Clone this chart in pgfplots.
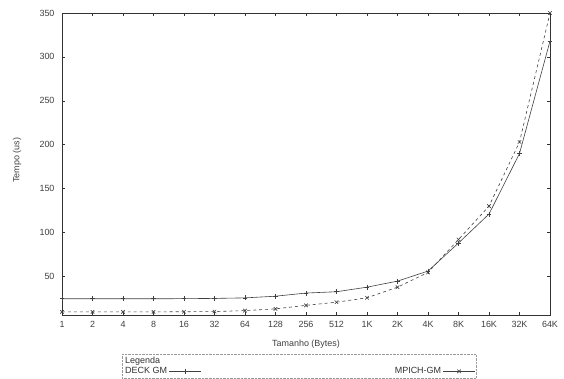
\documentclass[border=0pt]{standalone}
\usepackage{pgfplots}
\pgfplotsset{compat=1.18}
\usepackage{pgfplotstable}
\usepackage{fontspec}
\setmainfont{Liberation Sans}
\pgfplotstableread{
x lab DECK MPICH
0 1 24.5 9.6
1 2 24.5 9.6
2 4 24.5 9.6
3 8 24.5 9.6
4 16 24.6 9.7
5 32 24.9 9.9
6 64 25.5 11
7 128 27.4 13
8 256 31 17
9 512 32.5 20.6
10 1K 37.7 25.6
11 2K 44.6 37.7
12 4K 56 54.5
13 8K 88 92
14 16K 121 130
15 32K 190 203
16 64K 318 350
}\datatab
\begin{document}
\begin{tikzpicture}
\begin{axis}[
  name=ax,
  scale only axis,
  width=488bp, height=302bp,
  xmin=0, xmax=16, ymin=6, ymax=350,
  xtick={0,...,16},
  xticklabels={1,2,4,8,16,32,64,128,256,512,1K,2K,4K,8K,16K,32K,64K},
  ytick={50,100,150,200,250,300,350},
  tick align=inside,
  major tick length=3bp,
  axis line style={black!80, line width=0.6pt},
  every tick/.style={black!80, line width=0.4pt},
  font=\fontsize{9}{10}\selectfont,
  /pgf/number format/assume math mode=true,
  tick label style={font=\fontsize{9}{10}\selectfont, text=black!75},
  xticklabel style={yshift=-3bp},
  yticklabel style={xshift=-4bp},
  xlabel={Tamanho (Bytes)},
  ylabel={Tempo (us)},
  xlabel style={at={(axis description cs:0.5,-0.096)}, anchor=center, text=black!75},
  ylabel style={at={(axis description cs:-0.092,0.513)}, anchor=center, rotate=0, text=black!75},
  legend columns=2,
  legend plot pos=right,
  legend cell align=left,
  legend style={at={(axis description cs:0.123,-0.13)}, anchor=north west,
    draw=black!40, densely dotted, font=\fontsize{9}{9.5}\selectfont, text=black!80,
    inner sep=1bp, row sep=-2bp,
    /tikz/every even column/.append style={column sep=192bp}},
  legend image code/.code={\draw[solid,mark repeat=2,mark phase=2] plot coordinates {(0cm,0cm) (0.55cm,0cm) (1.1cm,0cm)};},
]
\addlegendimage{empty legend}
\addlegendentry{Legenda}
\addlegendimage{empty legend}
\addlegendentry{}
\addplot[black!75, line width=0.6pt, mark=+, mark size=2.5pt, mark options={solid}] table[x=x,y=DECK] {\datatab};
\addlegendentry{DECK GM}
\addplot[black!75, line width=0.6pt, dashed, mark=x, mark size=2.5pt, mark options={solid}] table[x=x,y=MPICH] {\datatab};
\addlegendentry{MPICH-GM}
\end{axis}
\pgfresetboundingbox
\path[use as bounding box] ([xshift=-62bp,yshift=-64bp]ax.south west) rectangle ([xshift=14bp,yshift=13bp]ax.north east);
\end{tikzpicture}
\end{document}
